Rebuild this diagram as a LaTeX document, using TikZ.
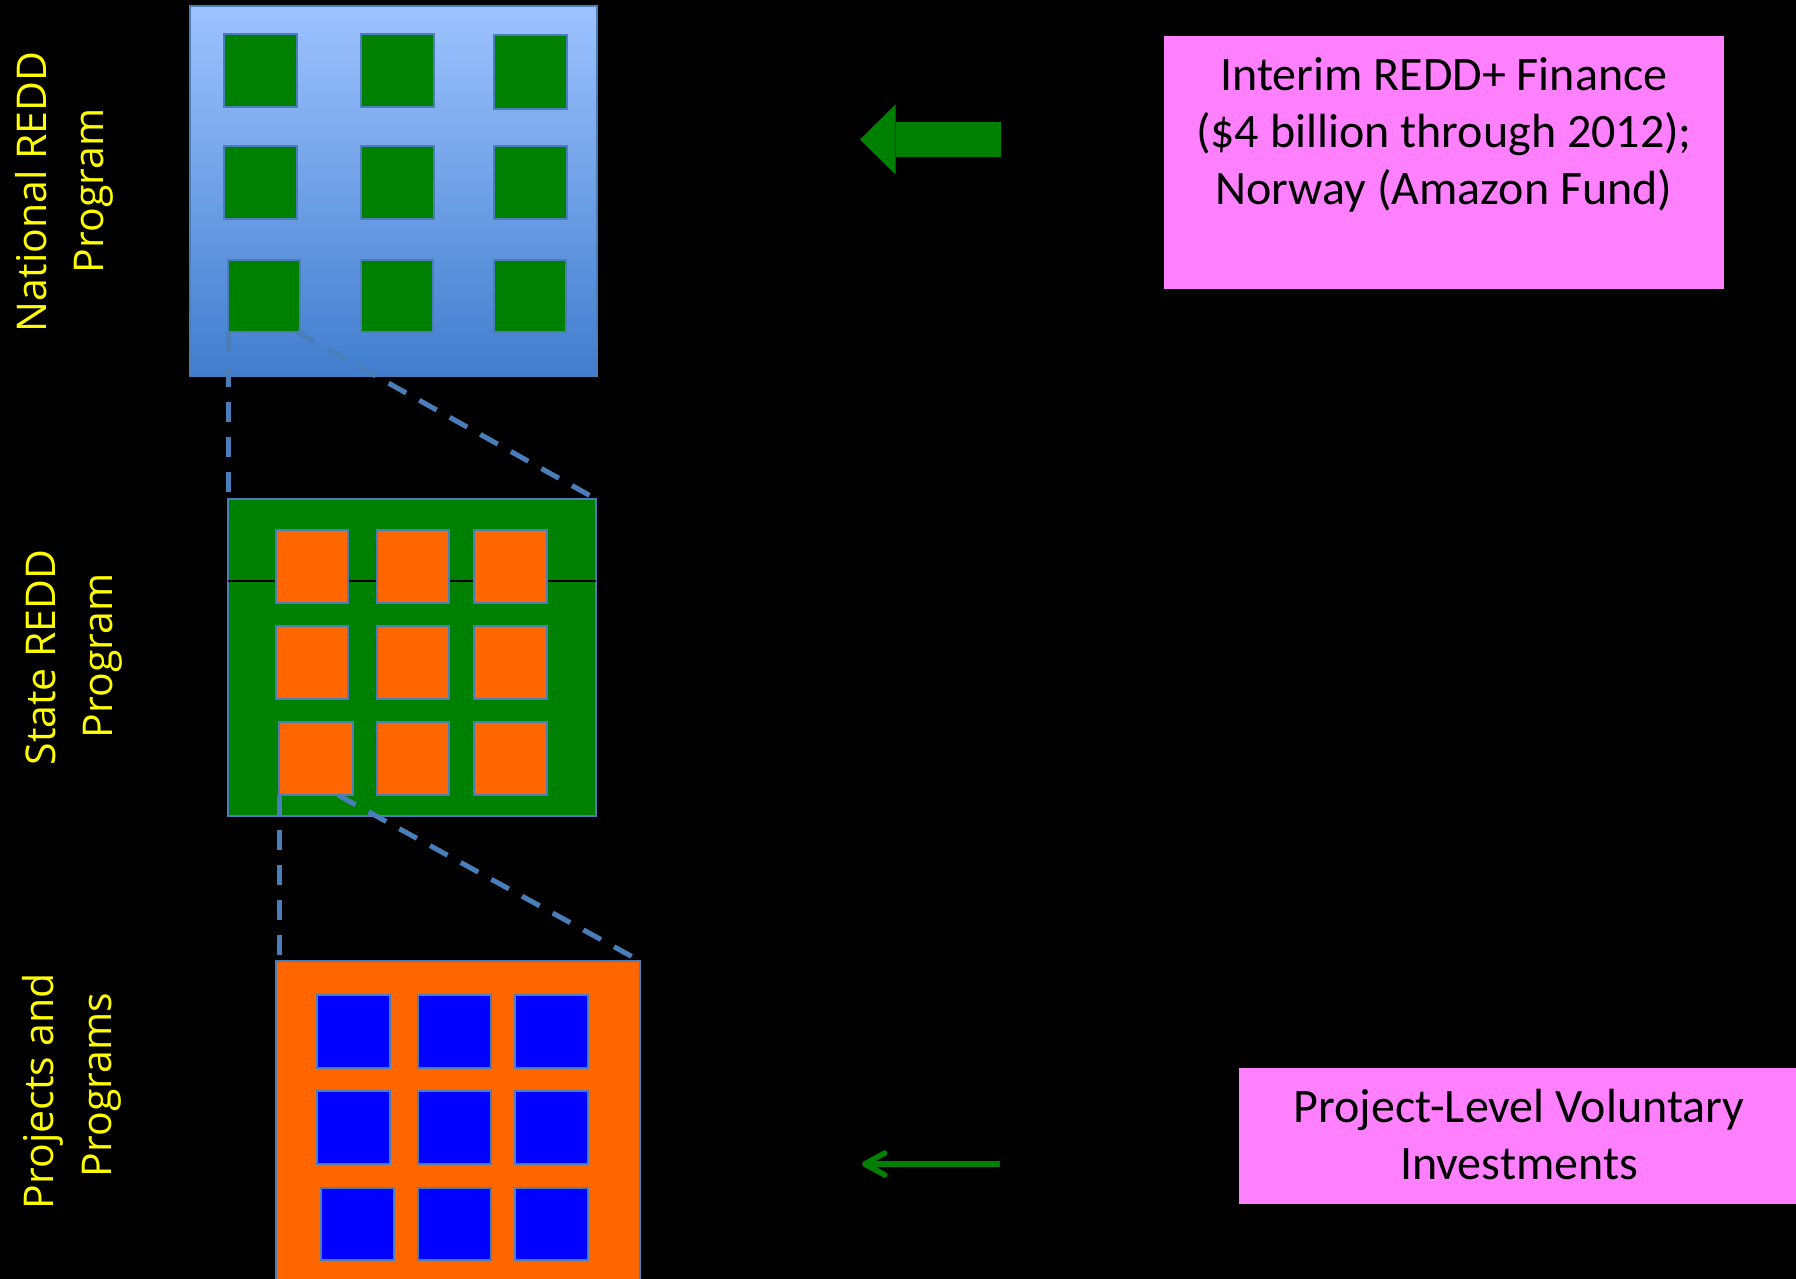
\documentclass[tikz,border=0pt]{standalone}
\usepackage{fontspec}
\setmainfont{Carlito}
\newfontfamily\labelfont{Open Sans}
\usetikzlibrary{arrows.meta,calc}
\definecolor{bordblue}{HTML}{4A7EBB}
\definecolor{ltop}{HTML}{9DC3FF}
\definecolor{lbot}{HTML}{417DCD}
\definecolor{pgreen}{HTML}{008000}
\definecolor{porange}{HTML}{FF6600}
\definecolor{pblue}{HTML}{0000FF}
\definecolor{ppink}{HTML}{FF80FF}
\definecolor{pyellow}{HTML}{FFFF00}
\newcommand\boxnode[6]{%
  \pgfmathsetmacro\rkW{#5-#3}\pgfmathsetmacro\rkH{#6-#4}%
  \node[#2, minimum width=\rkW pt, minimum height=\rkH pt] (#1) at ({(#3+#5)/2},{(#4+#6)/2}) {};}
\begin{document}
\begin{tikzpicture}[x=1pt,y=-1pt,
  bigbox/.style={draw=bordblue, line width=2pt, inner sep=0pt, outer sep=0pt},
  cell/.style={draw=bordblue, line width=2pt, inner sep=0pt, outer sep=0pt},
  gcell/.style={cell, fill=pgreen},
  ocell/.style={cell, fill=porange},
  bcell/.style={cell, fill=pblue},
  lvl/.style={text=pyellow, font=\labelfont\fontsize{41}{56.5}\selectfont, rotate=90, anchor=base, inner sep=0pt},
  pinkbox/.style={fill=ppink, inner sep=0pt, outer sep=0pt},
  boxtext/.style={text=black, font=\fontsize{48}{57}\selectfont, anchor=base, inner sep=0pt},
  zoomline/.style={draw=bordblue, line width=5pt, dash pattern=on 20pt off 15pt},
]
\clip (0,0) rectangle (1796,1279);
\fill[black] (0,0) rectangle (1796,1279);

% National box
\boxnode{nat}{bigbox, top color=ltop, bottom color=lbot}{190}{6}{597}{376}
\boxnode{ns1}{gcell}{224}{34}{297}{107}
\boxnode{ns2}{gcell}{361}{34}{434}{107}
\boxnode{ns3}{gcell}{494}{35}{567}{109}
\boxnode{ns4}{gcell}{224}{146}{297}{219}
\boxnode{ns5}{gcell}{361}{146}{434}{219}
\boxnode{ns6}{gcell}{494}{146}{567}{219}
\boxnode{ns7}{gcell}{228}{260}{300}{332}
\boxnode{ns8}{gcell}{361}{260}{433}{332}
\boxnode{ns9}{gcell}{494}{260}{566}{332}

% State box
\boxnode{state}{bigbox, fill=pgreen}{228}{499}{596}{816}
\coordinate (sline) at (0,581);
\draw[black, line width=1.2pt] (state.west |- sline) -- (state.east |- sline);
\boxnode{ss1}{ocell}{276}{530}{348}{603}
\boxnode{ss2}{ocell}{377}{530}{449}{603}
\boxnode{ss3}{ocell}{474}{530}{547}{603}
\boxnode{ss4}{ocell}{276}{626}{348}{699}
\boxnode{ss5}{ocell}{377}{626}{449}{699}
\boxnode{ss6}{ocell}{474}{626}{547}{699}
\boxnode{ss7}{ocell}{279}{722}{353}{795}
\boxnode{ss8}{ocell}{377}{722}{449}{795}
\boxnode{ss9}{ocell}{474}{722}{547}{795}

% Projects box
\boxnode{proj}{bigbox, fill=porange}{276}{961}{640}{1320}
\boxnode{ps1}{bcell}{317}{995}{390}{1068}
\boxnode{ps2}{bcell}{418}{995}{491}{1068}
\boxnode{ps3}{bcell}{515}{995}{588}{1068}
\boxnode{ps4}{bcell}{317}{1091}{390}{1164}
\boxnode{ps5}{bcell}{418}{1091}{491}{1164}
\boxnode{ps6}{bcell}{515}{1091}{588}{1164}
\boxnode{ps7}{bcell}{321}{1188}{394}{1260}
\boxnode{ps8}{bcell}{418}{1188}{491}{1260}
\boxnode{ps9}{bcell}{515}{1188}{588}{1260}

% zoom (dashed) lines
\draw[zoomline] (ns7.south west) -- (ns7.south west |- state.north);
\draw[zoomline] ([xshift=-3pt]ns7.south east) -- (state.north east);
\draw[zoomline] (ss7.south west) -- (ss7.south west |- proj.north);
\draw[zoomline] ([xshift=-15pt]ss7.south east) -- (proj.north east);

% level labels
\node[lvl] (natA) at (46.7,192) {National REDD};
\node[lvl] (natB) at (103,191) {Program};
\node[lvl] (stA) at (55,657.5) {State REDD};
\node[lvl] (stB) at (112,656) {Program};
\node[lvl] (prA) at (53,1091) {Projects and};
\node[lvl] (prB) at (111,1085) {Programs};

% finance boxes
\boxnode{fin}{pinkbox}{1164}{36}{1724}{289}
\node[boxtext] (finT) at (1444,90.7) {\begin{tabular}[t]{@{}c@{}}Interim REDD+ Finance\\(\$4 billion through 2012);\\Norway (Amazon Fund)\end{tabular}};
\boxnode{vol}{pinkbox}{1239}{1068}{1800}{1204}
\node[boxtext] (volT) at (1519,1122) {\begin{tabular}[t]{@{}c@{}}Project-Level Voluntary\\Investments\end{tabular}};

% arrows
\coordinate (bigT) at (1001,139.5);
\coordinate (bigH) at (860,139.5);
\draw[pgreen, line width=35pt, -{Triangle[length=35.5pt,width=70pt,line width=0pt]}] (bigT) -- (bigH);
\coordinate (smT) at (1000,1164);
\coordinate (smH) at (862,1164);
\draw[pgreen, line width=5.5pt, -{Straight Barb[length=20pt,width=22pt,round]}] (smT) -- (smH);
\end{tikzpicture}
\end{document}
